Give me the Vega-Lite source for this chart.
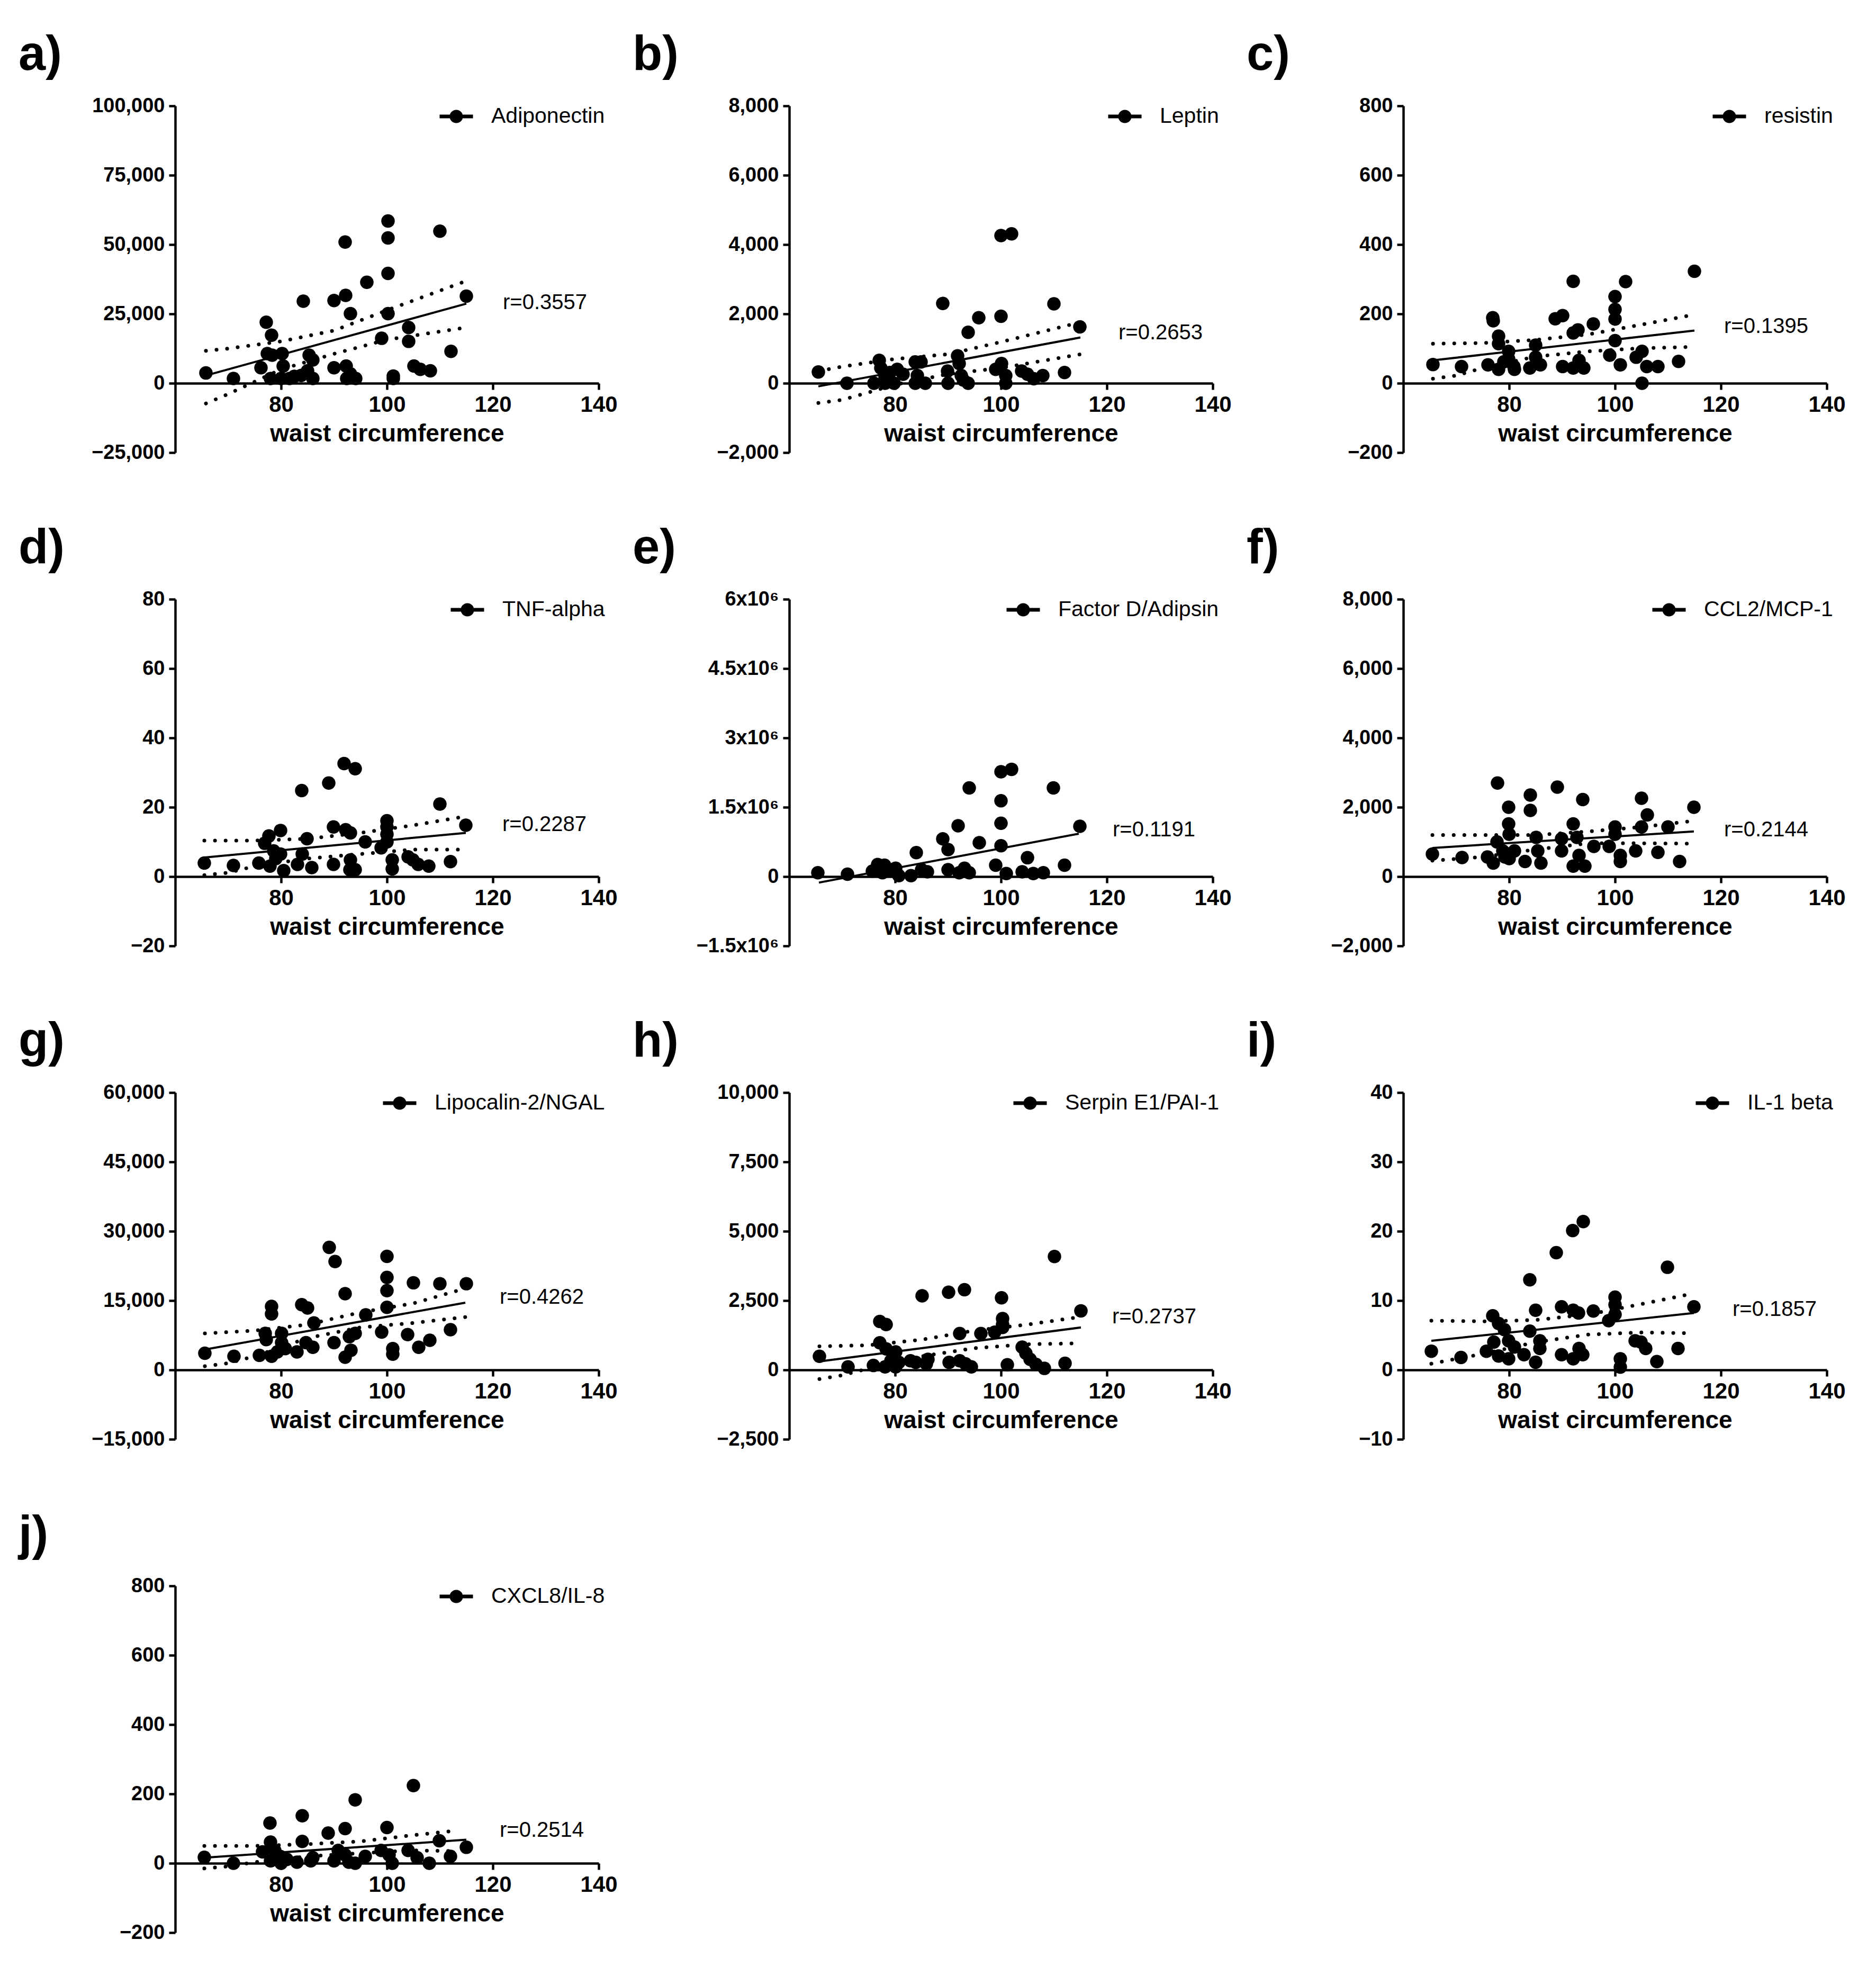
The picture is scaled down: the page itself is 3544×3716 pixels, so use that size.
{
  "$schema": "https://vega.github.io/schema/vega-lite/v6.json",
  "background": "white",
  "padding": {"left": 35, "top": 58, "right": 10, "bottom": 10},
  "config": {
    "font": "Liberation Sans",
    "view": {"stroke": null},
    "axis": {
      "grid": false,
      "domainColor": "black",
      "domainWidth": 4.5,
      "tickColor": "black",
      "tickWidth": 4.5,
      "tickSize": 12,
      "labelColor": "black",
      "labelFont": "Liberation Sans",
      "labelFontWeight": "bold",
      "labelFlush": false,
      "labelOverlap": false,
      "titleColor": "black",
      "titleFont": "Liberation Sans",
      "titleFontWeight": "bold"
    },
    "axisX": {"offset": -131, "labelFontSize": 42, "labelPadding": 8, "titleFontSize": 46, "titlePadding": 12},
    "axisY": {"labelFontSize": 38, "labelPadding": 8},
    "title": {
      "fontSize": 92,
      "fontWeight": "bold",
      "font": "Liberation Sans",
      "anchor": "start",
      "frame": "group",
      "dx": -296,
      "offset": 30,
      "color": "black"
    },
    "legend": {
      "orient": "top-right",
      "offset": -12,
      "padding": 0,
      "labelFont": "Liberation Sans",
      "labelFontSize": 41,
      "labelColor": "black",
      "labelLimit": 0,
      "labelOffset": 34,
      "symbolType": "M-1,-0.11H1V0.11H-1Z M0.4,0A0.4,0.4 0 1,1 -0.4,0A0.4,0.4 0 1,1 0.4,0Z",
      "symbolSize": 3970,
      "symbolStrokeWidth": 0
    },
    "text": {"font": "Liberation Sans", "fontSize": 40, "color": "black", "align": "left", "baseline": "middle"}
  },
  "resolve": {"scale": {"x": "independent", "y": "independent", "color": "independent"}},
  "columns": 3,
  "bounds": "flush",
  "spacing": {"row": 277, "column": 360},
  "datasets": {
    "a": [
      {"kind": "pt", "waist": 65.8, "value": 3700}, {"kind": "pt", "waist": 71, "value": 1700}, {"kind": "pt", "waist": 76.2, "value": 5600},
      {"kind": "pt", "waist": 77.2, "value": 22000}, {"kind": "pt", "waist": 78.2, "value": 17300}, {"kind": "pt", "waist": 77.4, "value": 10700},
      {"kind": "pt", "waist": 78.3, "value": 10100}, {"kind": "pt", "waist": 78, "value": 1700}, {"kind": "pt", "waist": 80.2, "value": 10700},
      {"kind": "pt", "waist": 80.4, "value": 6200}, {"kind": "pt", "waist": 80, "value": 1700}, {"kind": "pt", "waist": 81.6, "value": 1700},
      {"kind": "pt", "waist": 82.5, "value": 2500}, {"kind": "pt", "waist": 84.2, "value": 29600}, {"kind": "pt", "waist": 83.8, "value": 2800},
      {"kind": "pt", "waist": 85, "value": 4500}, {"kind": "pt", "waist": 85.3, "value": 10100}, {"kind": "pt", "waist": 86, "value": 8400},
      {"kind": "pt", "waist": 86, "value": 1700}, {"kind": "pt", "waist": 90, "value": 29800}, {"kind": "pt", "waist": 90, "value": 5600},
      {"kind": "pt", "waist": 92.1, "value": 50900}, {"kind": "pt", "waist": 92.2, "value": 31700}, {"kind": "pt", "waist": 92.3, "value": 6200},
      {"kind": "pt", "waist": 92.4, "value": 1700}, {"kind": "pt", "waist": 93.1, "value": 25100}, {"kind": "pt", "waist": 93.1, "value": 3400},
      {"kind": "pt", "waist": 94.1, "value": 1700}, {"kind": "pt", "waist": 96.2, "value": 36400}, {"kind": "pt", "waist": 99, "value": 16200},
      {"kind": "pt", "waist": 100.2, "value": 58500}, {"kind": "pt", "waist": 100.2, "value": 52400}, {"kind": "pt", "waist": 100.2, "value": 39600},
      {"kind": "pt", "waist": 100.2, "value": 25100}, {"kind": "pt", "waist": 101.2, "value": 2600}, {"kind": "pt", "waist": 101.2, "value": 1700},
      {"kind": "pt", "waist": 104.1, "value": 20100}, {"kind": "pt", "waist": 104.1, "value": 15100}, {"kind": "pt", "waist": 105.1, "value": 6200},
      {"kind": "pt", "waist": 106.3, "value": 5000}, {"kind": "pt", "waist": 108.2, "value": 4500}, {"kind": "pt", "waist": 110, "value": 54800},
      {"kind": "pt", "waist": 112.1, "value": 11500}, {"kind": "pt", "waist": 115, "value": 31400},
      {"kind": "fit", "waist": 65.8, "value": 2800}, {"kind": "fit", "waist": 115, "value": 28700},
      {"kind": "upper", "waist": 65.8, "value": 11700}, {"kind": "upper", "waist": 70, "value": 12500}, {"kind": "upper", "waist": 80, "value": 15100},
      {"kind": "upper", "waist": 90, "value": 19000}, {"kind": "upper", "waist": 100, "value": 26300}, {"kind": "upper", "waist": 115, "value": 36900},
      {"kind": "lower", "waist": 65.8, "value": -7300}, {"kind": "lower", "waist": 70, "value": -3900}, {"kind": "lower", "waist": 80, "value": 5000},
      {"kind": "lower", "waist": 90, "value": 10600}, {"kind": "lower", "waist": 100, "value": 15700}, {"kind": "lower", "waist": 115, "value": 20100},
      {"kind": "r", "waist": 121.9, "value": 29100, "label": "r=0.3557"}
    ],
    "b": [
      {"kind": "pt", "waist": 65.5, "value": 325}, {"kind": "pt", "waist": 70.9, "value": 0}, {"kind": "pt", "waist": 76, "value": 0},
      {"kind": "pt", "waist": 77, "value": 660}, {"kind": "pt", "waist": 77.3, "value": 440}, {"kind": "pt", "waist": 78.1, "value": 175},
      {"kind": "pt", "waist": 78.1, "value": 0}, {"kind": "pt", "waist": 79, "value": 310}, {"kind": "pt", "waist": 79.8, "value": 0},
      {"kind": "pt", "waist": 80.4, "value": 400}, {"kind": "pt", "waist": 81.5, "value": 260}, {"kind": "pt", "waist": 83.8, "value": 615},
      {"kind": "pt", "waist": 84.9, "value": 615}, {"kind": "pt", "waist": 83.8, "value": 0}, {"kind": "pt", "waist": 85.7, "value": 0},
      {"kind": "pt", "waist": 84.2, "value": 220}, {"kind": "pt", "waist": 89, "value": 2300}, {"kind": "pt", "waist": 89.9, "value": 350},
      {"kind": "pt", "waist": 90, "value": 0}, {"kind": "pt", "waist": 91.8, "value": 790}, {"kind": "pt", "waist": 92.1, "value": 570},
      {"kind": "pt", "waist": 92.5, "value": 220}, {"kind": "pt", "waist": 92.9, "value": 90}, {"kind": "pt", "waist": 93.8, "value": 0},
      {"kind": "pt", "waist": 93.8, "value": 1470}, {"kind": "pt", "waist": 95.8, "value": 1890}, {"kind": "pt", "waist": 99, "value": 400},
      {"kind": "pt", "waist": 100, "value": 4260}, {"kind": "pt", "waist": 100, "value": 1930}, {"kind": "pt", "waist": 100.1, "value": 570},
      {"kind": "pt", "waist": 100.9, "value": 220}, {"kind": "pt", "waist": 100.9, "value": 0}, {"kind": "pt", "waist": 102, "value": 4310},
      {"kind": "pt", "waist": 103.9, "value": 350}, {"kind": "pt", "waist": 105, "value": 260}, {"kind": "pt", "waist": 106.2, "value": 130},
      {"kind": "pt", "waist": 107.9, "value": 220}, {"kind": "pt", "waist": 110, "value": 2290}, {"kind": "pt", "waist": 112, "value": 310},
      {"kind": "pt", "waist": 114.9, "value": 1625},
      {"kind": "fit", "waist": 65.5, "value": -90}, {"kind": "fit", "waist": 115, "value": 1320},
      {"kind": "upper", "waist": 65.5, "value": 350}, {"kind": "upper", "waist": 70, "value": 480}, {"kind": "upper", "waist": 80, "value": 700},
      {"kind": "upper", "waist": 90, "value": 835}, {"kind": "upper", "waist": 100, "value": 1190}, {"kind": "upper", "waist": 115, "value": 1760},
      {"kind": "lower", "waist": 65.5, "value": -570}, {"kind": "lower", "waist": 70, "value": -480}, {"kind": "lower", "waist": 75, "value": -265},
      {"kind": "lower", "waist": 80, "value": -40}, {"kind": "lower", "waist": 90, "value": 265}, {"kind": "lower", "waist": 100, "value": 440},
      {"kind": "lower", "waist": 115, "value": 835},
      {"kind": "r", "waist": 122.2, "value": 1450, "label": "r=0.2653"}
    ],
    "c": [
      {"kind": "pt", "waist": 65.6, "value": 54}, {"kind": "pt", "waist": 71, "value": 48}, {"kind": "pt", "waist": 76, "value": 53},
      {"kind": "pt", "waist": 76.9, "value": 189}, {"kind": "pt", "waist": 77, "value": 180}, {"kind": "pt", "waist": 78, "value": 136},
      {"kind": "pt", "waist": 78, "value": 114}, {"kind": "pt", "waist": 78, "value": 40}, {"kind": "pt", "waist": 79, "value": 62},
      {"kind": "pt", "waist": 79.9, "value": 92}, {"kind": "pt", "waist": 79.9, "value": 70}, {"kind": "pt", "waist": 80.9, "value": 48},
      {"kind": "pt", "waist": 81, "value": 40}, {"kind": "pt", "waist": 83.9, "value": 44}, {"kind": "pt", "waist": 85, "value": 110},
      {"kind": "pt", "waist": 85, "value": 75}, {"kind": "pt", "waist": 85.9, "value": 53}, {"kind": "pt", "waist": 88.7, "value": 186},
      {"kind": "pt", "waist": 90.1, "value": 195}, {"kind": "pt", "waist": 90.1, "value": 48}, {"kind": "pt", "waist": 92.1, "value": 294},
      {"kind": "pt", "waist": 92.1, "value": 145}, {"kind": "pt", "waist": 93, "value": 154}, {"kind": "pt", "waist": 92.1, "value": 44},
      {"kind": "pt", "waist": 93.2, "value": 66}, {"kind": "pt", "waist": 94.1, "value": 44}, {"kind": "pt", "waist": 95.9, "value": 171},
      {"kind": "pt", "waist": 99, "value": 81}, {"kind": "pt", "waist": 100, "value": 250}, {"kind": "pt", "waist": 100, "value": 213},
      {"kind": "pt", "waist": 100, "value": 185}, {"kind": "pt", "waist": 100, "value": 123}, {"kind": "pt", "waist": 101, "value": 53},
      {"kind": "pt", "waist": 102, "value": 293}, {"kind": "pt", "waist": 104, "value": 75}, {"kind": "pt", "waist": 105.1, "value": 92},
      {"kind": "pt", "waist": 105.1, "value": 0}, {"kind": "pt", "waist": 106, "value": 48}, {"kind": "pt", "waist": 108.1, "value": 48},
      {"kind": "pt", "waist": 112, "value": 63}, {"kind": "pt", "waist": 115, "value": 323},
      {"kind": "fit", "waist": 65.6, "value": 66}, {"kind": "fit", "waist": 115, "value": 152},
      {"kind": "upper", "waist": 65.6, "value": 114}, {"kind": "upper", "waist": 75, "value": 116}, {"kind": "upper", "waist": 85, "value": 125},
      {"kind": "upper", "waist": 95, "value": 141}, {"kind": "upper", "waist": 105, "value": 169}, {"kind": "upper", "waist": 115, "value": 198},
      {"kind": "lower", "waist": 65.6, "value": 13}, {"kind": "lower", "waist": 70, "value": 22}, {"kind": "lower", "waist": 75, "value": 44},
      {"kind": "lower", "waist": 85, "value": 77}, {"kind": "lower", "waist": 95, "value": 92}, {"kind": "lower", "waist": 105, "value": 101},
      {"kind": "lower", "waist": 115, "value": 105},
      {"kind": "r", "waist": 120.6, "value": 163, "label": "r=0.1395"}
    ],
    "d": [
      {"kind": "pt", "waist": 65.5, "value": 3.9}, {"kind": "pt", "waist": 71, "value": 3.2}, {"kind": "pt", "waist": 75.8, "value": 3.9},
      {"kind": "pt", "waist": 76.9, "value": 9.6}, {"kind": "pt", "waist": 77.7, "value": 11.7}, {"kind": "pt", "waist": 77.9, "value": 3.0},
      {"kind": "pt", "waist": 78.6, "value": 7.4}, {"kind": "pt", "waist": 79, "value": 5.2}, {"kind": "pt", "waist": 79.9, "value": 13.3},
      {"kind": "pt", "waist": 79.9, "value": 6.5}, {"kind": "pt", "waist": 80.5, "value": 1.7}, {"kind": "pt", "waist": 83.9, "value": 24.8},
      {"kind": "pt", "waist": 84, "value": 6.5}, {"kind": "pt", "waist": 83.1, "value": 3.5}, {"kind": "pt", "waist": 84.9, "value": 10.9},
      {"kind": "pt", "waist": 85.8, "value": 2.6}, {"kind": "pt", "waist": 89, "value": 27}, {"kind": "pt", "waist": 89.9, "value": 14.3},
      {"kind": "pt", "waist": 89.9, "value": 3.5}, {"kind": "pt", "waist": 91.9, "value": 32.6}, {"kind": "pt", "waist": 92.2, "value": 13.5},
      {"kind": "pt", "waist": 93.1, "value": 12.6}, {"kind": "pt", "waist": 93.1, "value": 4.8}, {"kind": "pt", "waist": 93, "value": 2},
      {"kind": "pt", "waist": 94, "value": 31.1}, {"kind": "pt", "waist": 94, "value": 2}, {"kind": "pt", "waist": 95.9, "value": 10},
      {"kind": "pt", "waist": 98.9, "value": 8.3}, {"kind": "pt", "waist": 100, "value": 16.1}, {"kind": "pt", "waist": 100, "value": 14.3},
      {"kind": "pt", "waist": 100, "value": 12.2}, {"kind": "pt", "waist": 100, "value": 10}, {"kind": "pt", "waist": 101, "value": 4.8},
      {"kind": "pt", "waist": 101, "value": 2.2}, {"kind": "pt", "waist": 104, "value": 5.7}, {"kind": "pt", "waist": 104.9, "value": 4.8},
      {"kind": "pt", "waist": 105.9, "value": 3.5}, {"kind": "pt", "waist": 107.9, "value": 3}, {"kind": "pt", "waist": 110, "value": 20.9},
      {"kind": "pt", "waist": 112, "value": 4.3}, {"kind": "pt", "waist": 114.9, "value": 14.8},
      {"kind": "fit", "waist": 65.5, "value": 5.5}, {"kind": "fit", "waist": 114.9, "value": 12.6},
      {"kind": "upper", "waist": 65.5, "value": 10.4}, {"kind": "upper", "waist": 75, "value": 10.4}, {"kind": "upper", "waist": 85, "value": 10.9},
      {"kind": "upper", "waist": 95, "value": 12.6}, {"kind": "upper", "waist": 105, "value": 14.8}, {"kind": "upper", "waist": 115, "value": 17.4},
      {"kind": "lower", "waist": 65.5, "value": 0.4}, {"kind": "lower", "waist": 70, "value": 1.1}, {"kind": "lower", "waist": 75, "value": 3.0},
      {"kind": "lower", "waist": 85, "value": 5.2}, {"kind": "lower", "waist": 95, "value": 6.5}, {"kind": "lower", "waist": 105, "value": 7.8},
      {"kind": "lower", "waist": 115, "value": 7.8},
      {"kind": "r", "waist": 121.8, "value": 15.0, "label": "r=0.2287"}
    ],
    "e": [
      {"kind": "pt", "waist": 65.4, "value": 84000}, {"kind": "pt", "waist": 71, "value": 52000}, {"kind": "pt", "waist": 75.7, "value": 117000},
      {"kind": "pt", "waist": 76.7, "value": 260000}, {"kind": "pt", "waist": 78, "value": 246000}, {"kind": "pt", "waist": 77.6, "value": 84000},
      {"kind": "pt", "waist": 79.2, "value": 149000}, {"kind": "pt", "waist": 80.1, "value": 181000}, {"kind": "pt", "waist": 80.7, "value": 19000},
      {"kind": "pt", "waist": 83, "value": 19000}, {"kind": "pt", "waist": 84, "value": 518000}, {"kind": "pt", "waist": 85, "value": 149000},
      {"kind": "pt", "waist": 86.1, "value": 104000}, {"kind": "pt", "waist": 89, "value": 816000}, {"kind": "pt", "waist": 90, "value": 583000},
      {"kind": "pt", "waist": 90, "value": 149000}, {"kind": "pt", "waist": 91.9, "value": 1100000}, {"kind": "pt", "waist": 92.1, "value": 84000},
      {"kind": "pt", "waist": 93.1, "value": 181000}, {"kind": "pt", "waist": 94, "value": 1918000}, {"kind": "pt", "waist": 94, "value": 84000},
      {"kind": "pt", "waist": 95.9, "value": 732000}, {"kind": "pt", "waist": 99, "value": 246000}, {"kind": "pt", "waist": 100, "value": 2268000},
      {"kind": "pt", "waist": 100, "value": 1640000}, {"kind": "pt", "waist": 100, "value": 1153000}, {"kind": "pt", "waist": 100, "value": 667000},
      {"kind": "pt", "waist": 101, "value": 65000}, {"kind": "pt", "waist": 102, "value": 2320000}, {"kind": "pt", "waist": 104, "value": 104000},
      {"kind": "pt", "waist": 105, "value": 408000}, {"kind": "pt", "waist": 106.1, "value": 65000}, {"kind": "pt", "waist": 108, "value": 84000},
      {"kind": "pt", "waist": 109.9, "value": 1918000}, {"kind": "pt", "waist": 112, "value": 246000}, {"kind": "pt", "waist": 114.9, "value": 1089000},
      {"kind": "fit", "waist": 65.6, "value": -130000}, {"kind": "fit", "waist": 114.7, "value": 927000},
      {"kind": "r", "waist": 121.1, "value": 1011000, "label": "r=0.1191"}
    ],
    "f": [
      {"kind": "pt", "waist": 65.5, "value": 650}, {"kind": "pt", "waist": 71.1, "value": 550}, {"kind": "pt", "waist": 75.9, "value": 565},
      {"kind": "pt", "waist": 77, "value": 390}, {"kind": "pt", "waist": 77.7, "value": 1000}, {"kind": "pt", "waist": 77.8, "value": 2700},
      {"kind": "pt", "waist": 78.8, "value": 740}, {"kind": "pt", "waist": 79.2, "value": 565}, {"kind": "pt", "waist": 79.9, "value": 1520},
      {"kind": "pt", "waist": 79.9, "value": 2000}, {"kind": "pt", "waist": 80, "value": 1220}, {"kind": "pt", "waist": 80, "value": 520},
      {"kind": "pt", "waist": 81, "value": 740}, {"kind": "pt", "waist": 83, "value": 435}, {"kind": "pt", "waist": 84, "value": 2350},
      {"kind": "pt", "waist": 84, "value": 1910}, {"kind": "pt", "waist": 85.1, "value": 1130}, {"kind": "pt", "waist": 85.4, "value": 740},
      {"kind": "pt", "waist": 86, "value": 390}, {"kind": "pt", "waist": 89.1, "value": 2580}, {"kind": "pt", "waist": 89.9, "value": 1090},
      {"kind": "pt", "waist": 89.9, "value": 740}, {"kind": "pt", "waist": 92.1, "value": 1520}, {"kind": "pt", "waist": 92.1, "value": 300},
      {"kind": "pt", "waist": 92.8, "value": 1130}, {"kind": "pt", "waist": 93.2, "value": 610}, {"kind": "pt", "waist": 93.9, "value": 2220},
      {"kind": "pt", "waist": 94.3, "value": 300}, {"kind": "pt", "waist": 96, "value": 870}, {"kind": "pt", "waist": 98.9, "value": 870},
      {"kind": "pt", "waist": 100, "value": 1430}, {"kind": "pt", "waist": 100, "value": 1220}, {"kind": "pt", "waist": 101, "value": 610},
      {"kind": "pt", "waist": 101, "value": 435}, {"kind": "pt", "waist": 103.9, "value": 740}, {"kind": "pt", "waist": 105, "value": 1430},
      {"kind": "pt", "waist": 105, "value": 2260}, {"kind": "pt", "waist": 106.1, "value": 1780}, {"kind": "pt", "waist": 108.1, "value": 700},
      {"kind": "pt", "waist": 110, "value": 1430}, {"kind": "pt", "waist": 112.2, "value": 435}, {"kind": "pt", "waist": 114.9, "value": 2000},
      {"kind": "fit", "waist": 65.5, "value": 826}, {"kind": "fit", "waist": 114.9, "value": 1300},
      {"kind": "upper", "waist": 65.5, "value": 1200}, {"kind": "upper", "waist": 75, "value": 1200}, {"kind": "upper", "waist": 85, "value": 1200},
      {"kind": "upper", "waist": 95, "value": 1300}, {"kind": "upper", "waist": 105, "value": 1430}, {"kind": "upper", "waist": 115, "value": 1610},
      {"kind": "lower", "waist": 65.5, "value": 460}, {"kind": "lower", "waist": 75, "value": 565}, {"kind": "lower", "waist": 85, "value": 780},
      {"kind": "lower", "waist": 95, "value": 960}, {"kind": "lower", "waist": 105, "value": 960}, {"kind": "lower", "waist": 115, "value": 950},
      {"kind": "r", "waist": 120.6, "value": 1348, "label": "r=0.2144"}
    ],
    "g": [
      {"kind": "pt", "waist": 65.6, "value": 3600}, {"kind": "pt", "waist": 71.1, "value": 2950}, {"kind": "pt", "waist": 75.9, "value": 3150},
      {"kind": "pt", "waist": 77, "value": 7900}, {"kind": "pt", "waist": 77.2, "value": 6550}, {"kind": "pt", "waist": 78.2, "value": 13750},
      {"kind": "pt", "waist": 78.2, "value": 12100}, {"kind": "pt", "waist": 78.2, "value": 2950}, {"kind": "pt", "waist": 79.3, "value": 3900},
      {"kind": "pt", "waist": 80.1, "value": 7900}, {"kind": "pt", "waist": 80.1, "value": 5900}, {"kind": "pt", "waist": 80.8, "value": 4600},
      {"kind": "pt", "waist": 83, "value": 3900}, {"kind": "pt", "waist": 83.9, "value": 14100}, {"kind": "pt", "waist": 85, "value": 13400},
      {"kind": "pt", "waist": 84.7, "value": 5900}, {"kind": "pt", "waist": 86.2, "value": 10150}, {"kind": "pt", "waist": 86, "value": 4900},
      {"kind": "pt", "waist": 89.1, "value": 26500}, {"kind": "pt", "waist": 90.2, "value": 23450}, {"kind": "pt", "waist": 90, "value": 5900},
      {"kind": "pt", "waist": 92.1, "value": 16500}, {"kind": "pt", "waist": 92.1, "value": 2750}, {"kind": "pt", "waist": 92.9, "value": 7200},
      {"kind": "pt", "waist": 93.2, "value": 4250}, {"kind": "pt", "waist": 94, "value": 7900}, {"kind": "pt", "waist": 96, "value": 11900},
      {"kind": "pt", "waist": 99, "value": 8200}, {"kind": "pt", "waist": 100, "value": 24550}, {"kind": "pt", "waist": 100, "value": 20000},
      {"kind": "pt", "waist": 100, "value": 17150}, {"kind": "pt", "waist": 100, "value": 13550}, {"kind": "pt", "waist": 101.1, "value": 4600},
      {"kind": "pt", "waist": 101.1, "value": 3400}, {"kind": "pt", "waist": 103.9, "value": 7650}, {"kind": "pt", "waist": 105, "value": 18850},
      {"kind": "pt", "waist": 106, "value": 4900}, {"kind": "pt", "waist": 108.1, "value": 6400}, {"kind": "pt", "waist": 110, "value": 18650},
      {"kind": "pt", "waist": 112, "value": 8700}, {"kind": "pt", "waist": 115, "value": 18650},
      {"kind": "fit", "waist": 65.6, "value": 4400}, {"kind": "fit", "waist": 114.8, "value": 14550},
      {"kind": "upper", "waist": 65.6, "value": 7900}, {"kind": "upper", "waist": 75, "value": 8500}, {"kind": "upper", "waist": 85, "value": 9800},
      {"kind": "upper", "waist": 95, "value": 12450}, {"kind": "upper", "waist": 105, "value": 14400}, {"kind": "upper", "waist": 115, "value": 17700},
      {"kind": "lower", "waist": 65.6, "value": 800}, {"kind": "lower", "waist": 70, "value": 1450}, {"kind": "lower", "waist": 75, "value": 2950},
      {"kind": "lower", "waist": 85, "value": 6900}, {"kind": "lower", "waist": 95, "value": 9200}, {"kind": "lower", "waist": 105, "value": 10150},
      {"kind": "lower", "waist": 115, "value": 11450},
      {"kind": "r", "waist": 121.3, "value": 15720, "label": "r=0.4262"}
    ],
    "h": [
      {"kind": "pt", "waist": 65.7, "value": 490}, {"kind": "pt", "waist": 71.1, "value": 110}, {"kind": "pt", "waist": 75.9, "value": 160},
      {"kind": "pt", "waist": 77.1, "value": 1745}, {"kind": "pt", "waist": 78.3, "value": 1635}, {"kind": "pt", "waist": 77.1, "value": 980},
      {"kind": "pt", "waist": 78.3, "value": 760}, {"kind": "pt", "waist": 78.1, "value": 110}, {"kind": "pt", "waist": 79.2, "value": 330},
      {"kind": "pt", "waist": 80.1, "value": 650}, {"kind": "pt", "waist": 80.1, "value": 110}, {"kind": "pt", "waist": 80.7, "value": 270},
      {"kind": "pt", "waist": 82.9, "value": 330}, {"kind": "pt", "waist": 83.9, "value": 270}, {"kind": "pt", "waist": 85.1, "value": 2670},
      {"kind": "pt", "waist": 85.9, "value": 220}, {"kind": "pt", "waist": 86.2, "value": 380}, {"kind": "pt", "waist": 90.1, "value": 2800},
      {"kind": "pt", "waist": 90.2, "value": 270}, {"kind": "pt", "waist": 92.2, "value": 1310}, {"kind": "pt", "waist": 92.2, "value": 330},
      {"kind": "pt", "waist": 93.1, "value": 2890}, {"kind": "pt", "waist": 93.3, "value": 220}, {"kind": "pt", "waist": 94.4, "value": 110},
      {"kind": "pt", "waist": 96.2, "value": 1310}, {"kind": "pt", "waist": 98.8, "value": 1360}, {"kind": "pt", "waist": 100.1, "value": 2600},
      {"kind": "pt", "waist": 100.3, "value": 1850}, {"kind": "pt", "waist": 100.3, "value": 1635}, {"kind": "pt", "waist": 100.3, "value": 1530},
      {"kind": "pt", "waist": 101.2, "value": 185}, {"kind": "pt", "waist": 104, "value": 820}, {"kind": "pt", "waist": 104.7, "value": 600},
      {"kind": "pt", "waist": 105.5, "value": 380}, {"kind": "pt", "waist": 106.6, "value": 200}, {"kind": "pt", "waist": 108.2, "value": 55},
      {"kind": "pt", "waist": 110.1, "value": 4090}, {"kind": "pt", "waist": 112.1, "value": 240}, {"kind": "pt", "waist": 115.1, "value": 2130},
      {"kind": "fit", "waist": 65.7, "value": 305}, {"kind": "fit", "waist": 115.1, "value": 1530},
      {"kind": "upper", "waist": 65.7, "value": 850}, {"kind": "upper", "waist": 75, "value": 890}, {"kind": "upper", "waist": 85, "value": 1090},
      {"kind": "upper", "waist": 95, "value": 1420}, {"kind": "upper", "waist": 105, "value": 1635}, {"kind": "upper", "waist": 115, "value": 1910},
      {"kind": "lower", "waist": 65.7, "value": -330}, {"kind": "lower", "waist": 70, "value": -195}, {"kind": "lower", "waist": 75, "value": 55},
      {"kind": "lower", "waist": 85, "value": 490}, {"kind": "lower", "waist": 95, "value": 785}, {"kind": "lower", "waist": 105, "value": 925},
      {"kind": "lower", "waist": 115, "value": 960},
      {"kind": "r", "waist": 121, "value": 1908, "label": "r=0.2737"}
    ],
    "i": [
      {"kind": "pt", "waist": 65.3, "value": 2.7}, {"kind": "pt", "waist": 70.9, "value": 1.8}, {"kind": "pt", "waist": 75.7, "value": 2.7},
      {"kind": "pt", "waist": 76.9, "value": 7.8}, {"kind": "pt", "waist": 77.1, "value": 4.0}, {"kind": "pt", "waist": 78, "value": 6.7},
      {"kind": "pt", "waist": 78, "value": 2.0}, {"kind": "pt", "waist": 79.1, "value": 5.8}, {"kind": "pt", "waist": 79.9, "value": 4.2},
      {"kind": "pt", "waist": 79.9, "value": 1.6}, {"kind": "pt", "waist": 81, "value": 3.3}, {"kind": "pt", "waist": 82.8, "value": 2.2},
      {"kind": "pt", "waist": 83.9, "value": 13}, {"kind": "pt", "waist": 83.9, "value": 5.6}, {"kind": "pt", "waist": 85, "value": 8.6},
      {"kind": "pt", "waist": 85, "value": 1.1}, {"kind": "pt", "waist": 85.8, "value": 4.2}, {"kind": "pt", "waist": 85.8, "value": 3.1},
      {"kind": "pt", "waist": 88.9, "value": 16.9}, {"kind": "pt", "waist": 89.9, "value": 9.1}, {"kind": "pt", "waist": 89.9, "value": 2.2},
      {"kind": "pt", "waist": 92, "value": 20.1}, {"kind": "pt", "waist": 92.1, "value": 8.6}, {"kind": "pt", "waist": 93.1, "value": 8.2},
      {"kind": "pt", "waist": 92.1, "value": 1.6}, {"kind": "pt", "waist": 93.2, "value": 3.1}, {"kind": "pt", "waist": 93.9, "value": 2.2},
      {"kind": "pt", "waist": 94, "value": 21.4}, {"kind": "pt", "waist": 95.9, "value": 8.5}, {"kind": "pt", "waist": 98.8, "value": 7.1},
      {"kind": "pt", "waist": 100, "value": 10.5}, {"kind": "pt", "waist": 100, "value": 9.4}, {"kind": "pt", "waist": 100, "value": 8.0},
      {"kind": "pt", "waist": 101, "value": 1.6}, {"kind": "pt", "waist": 101, "value": 0.4}, {"kind": "pt", "waist": 103.8, "value": 4.2},
      {"kind": "pt", "waist": 104.9, "value": 4.0}, {"kind": "pt", "waist": 105.8, "value": 3.1}, {"kind": "pt", "waist": 107.9, "value": 1.2},
      {"kind": "pt", "waist": 109.9, "value": 14.8}, {"kind": "pt", "waist": 111.9, "value": 3.1}, {"kind": "pt", "waist": 114.9, "value": 9.1},
      {"kind": "fit", "waist": 65.3, "value": 4.2}, {"kind": "fit", "waist": 114.9, "value": 8.2},
      {"kind": "upper", "waist": 65.3, "value": 7.1}, {"kind": "upper", "waist": 75, "value": 7.0}, {"kind": "upper", "waist": 85, "value": 7.2},
      {"kind": "upper", "waist": 95, "value": 8.0}, {"kind": "upper", "waist": 105, "value": 9.5}, {"kind": "upper", "waist": 114, "value": 10.9},
      {"kind": "lower", "waist": 65.3, "value": 0.9}, {"kind": "lower", "waist": 70, "value": 1.6}, {"kind": "lower", "waist": 75, "value": 2.3},
      {"kind": "lower", "waist": 85, "value": 4.0}, {"kind": "lower", "waist": 95, "value": 5.1}, {"kind": "lower", "waist": 105, "value": 5.4},
      {"kind": "lower", "waist": 114, "value": 5.3},
      {"kind": "r", "waist": 122.2, "value": 8.7, "label": "r=0.1857"}
    ],
    "j": [
      {"kind": "pt", "waist": 65.5, "value": 17}, {"kind": "pt", "waist": 71, "value": 0}, {"kind": "pt", "waist": 76.5, "value": 33},
      {"kind": "pt", "waist": 77.9, "value": 116}, {"kind": "pt", "waist": 78, "value": 61}, {"kind": "pt", "waist": 78, "value": 7},
      {"kind": "pt", "waist": 78.8, "value": 37}, {"kind": "pt", "waist": 79.8, "value": 20}, {"kind": "pt", "waist": 80, "value": 0},
      {"kind": "pt", "waist": 81.1, "value": 11}, {"kind": "pt", "waist": 83, "value": 3}, {"kind": "pt", "waist": 84, "value": 137},
      {"kind": "pt", "waist": 84, "value": 63}, {"kind": "pt", "waist": 85.6, "value": 7}, {"kind": "pt", "waist": 86, "value": 16},
      {"kind": "pt", "waist": 88.9, "value": 87}, {"kind": "pt", "waist": 90, "value": 7}, {"kind": "pt", "waist": 90.8, "value": 37},
      {"kind": "pt", "waist": 92.1, "value": 100}, {"kind": "pt", "waist": 92.1, "value": 24}, {"kind": "pt", "waist": 92.8, "value": 3},
      {"kind": "pt", "waist": 94, "value": 0}, {"kind": "pt", "waist": 94, "value": 183}, {"kind": "pt", "waist": 95.9, "value": 20},
      {"kind": "pt", "waist": 98.9, "value": 37}, {"kind": "pt", "waist": 100, "value": 103}, {"kind": "pt", "waist": 100.4, "value": 24},
      {"kind": "pt", "waist": 101, "value": 0}, {"kind": "pt", "waist": 104, "value": 37}, {"kind": "pt", "waist": 105, "value": 224},
      {"kind": "pt", "waist": 105.7, "value": 16}, {"kind": "pt", "waist": 108, "value": 0}, {"kind": "pt", "waist": 109.9, "value": 65},
      {"kind": "pt", "waist": 112, "value": 20}, {"kind": "pt", "waist": 115, "value": 46},
      {"kind": "fit", "waist": 65.5, "value": 16}, {"kind": "fit", "waist": 115, "value": 68},
      {"kind": "upper", "waist": 65.5, "value": 50}, {"kind": "upper", "waist": 75, "value": 50}, {"kind": "upper", "waist": 85, "value": 55},
      {"kind": "upper", "waist": 95, "value": 63}, {"kind": "upper", "waist": 105, "value": 81}, {"kind": "upper", "waist": 113, "value": 94},
      {"kind": "lower", "waist": 65.5, "value": -15}, {"kind": "lower", "waist": 70, "value": -9}, {"kind": "lower", "waist": 75, "value": 3},
      {"kind": "lower", "waist": 85, "value": 20}, {"kind": "lower", "waist": 95, "value": 29}, {"kind": "lower", "waist": 105, "value": 37},
      {"kind": "lower", "waist": 113, "value": 35},
      {"kind": "r", "waist": 121.3, "value": 94, "label": "r=0.2514"}
    ]
  },
  "concat": [
    {
      "title": "a)", "width": 800, "height": 655, "data": {"name": "a"},
      "encoding": {
        "x": {"field": "waist", "type": "quantitative", "scale": {"domain": [60, 140]}, "axis": {"values": [80, 100, 120, 140], "title": "waist circumference"}},
        "y": {"field": "value", "type": "quantitative", "scale": {"domain": [-25000, 100000]}, "axis": {"values": [-25000, 0, 25000, 50000, 75000, 100000], "format": ",.0f", "title": null}}
      },
      "layer": [
        {"transform": [{"filter": "datum.kind == 'upper' || datum.kind == 'lower'"}], "mark": {"type": "line", "color": "black", "strokeWidth": 7, "strokeCap": "round", "strokeDash": [0.1, 20]}, "encoding": {"detail": {"field": "kind"}}},
        {"transform": [{"filter": "datum.kind == 'fit'"}], "mark": {"type": "line", "color": "black", "strokeWidth": 4}, "encoding": {}},
        {"transform": [{"filter": "datum.kind == 'pt'"}], "mark": {"type": "point", "shape": "circle", "filled": true, "size": 650, "opacity": 1, "strokeWidth": 0}, "encoding": {"color": {"datum": "Adiponectin", "type": "nominal", "scale": {"range": ["black"]}, "legend": {"title": null}}}},
        {"transform": [{"filter": "datum.kind == 'r'"}], "mark": {"type": "text"}, "encoding": {"text": {"field": "label"}}}
      ]
    },
    {
      "title": "b)", "width": 800, "height": 655, "data": {"name": "b"},
      "encoding": {
        "x": {"field": "waist", "type": "quantitative", "scale": {"domain": [60, 140]}, "axis": {"values": [80, 100, 120, 140], "title": "waist circumference"}},
        "y": {"field": "value", "type": "quantitative", "scale": {"domain": [-2000, 8000]}, "axis": {"values": [-2000, 0, 2000, 4000, 6000, 8000], "format": ",.0f", "title": null}}
      },
      "layer": [
        {"transform": [{"filter": "datum.kind == 'upper' || datum.kind == 'lower'"}], "mark": {"type": "line", "color": "black", "strokeWidth": 7, "strokeCap": "round", "strokeDash": [0.1, 20]}, "encoding": {"detail": {"field": "kind"}}},
        {"transform": [{"filter": "datum.kind == 'fit'"}], "mark": {"type": "line", "color": "black", "strokeWidth": 4}, "encoding": {}},
        {"transform": [{"filter": "datum.kind == 'pt'"}], "mark": {"type": "point", "shape": "circle", "filled": true, "size": 650, "opacity": 1, "strokeWidth": 0}, "encoding": {"color": {"datum": "Leptin", "type": "nominal", "scale": {"range": ["black"]}, "legend": {"title": null}}}},
        {"transform": [{"filter": "datum.kind == 'r'"}], "mark": {"type": "text"}, "encoding": {"text": {"field": "label"}}}
      ]
    },
    {
      "title": "c)", "width": 800, "height": 655, "data": {"name": "c"},
      "encoding": {
        "x": {"field": "waist", "type": "quantitative", "scale": {"domain": [60, 140]}, "axis": {"values": [80, 100, 120, 140], "title": "waist circumference"}},
        "y": {"field": "value", "type": "quantitative", "scale": {"domain": [-200, 800]}, "axis": {"values": [-200, 0, 200, 400, 600, 800], "format": ",.0f", "title": null}}
      },
      "layer": [
        {"transform": [{"filter": "datum.kind == 'upper' || datum.kind == 'lower'"}], "mark": {"type": "line", "color": "black", "strokeWidth": 7, "strokeCap": "round", "strokeDash": [0.1, 20]}, "encoding": {"detail": {"field": "kind"}}},
        {"transform": [{"filter": "datum.kind == 'fit'"}], "mark": {"type": "line", "color": "black", "strokeWidth": 4}, "encoding": {}},
        {"transform": [{"filter": "datum.kind == 'pt'"}], "mark": {"type": "point", "shape": "circle", "filled": true, "size": 650, "opacity": 1, "strokeWidth": 0}, "encoding": {"color": {"datum": "resistin", "type": "nominal", "scale": {"range": ["black"]}, "legend": {"title": null}}}},
        {"transform": [{"filter": "datum.kind == 'r'"}], "mark": {"type": "text"}, "encoding": {"text": {"field": "label"}}}
      ]
    },
    {
      "title": "d)", "width": 800, "height": 655, "data": {"name": "d"},
      "encoding": {
        "x": {"field": "waist", "type": "quantitative", "scale": {"domain": [60, 140]}, "axis": {"values": [80, 100, 120, 140], "title": "waist circumference"}},
        "y": {"field": "value", "type": "quantitative", "scale": {"domain": [-20, 80]}, "axis": {"values": [-20, 0, 20, 40, 60, 80], "format": ",.0f", "title": null}}
      },
      "layer": [
        {"transform": [{"filter": "datum.kind == 'upper' || datum.kind == 'lower'"}], "mark": {"type": "line", "color": "black", "strokeWidth": 7, "strokeCap": "round", "strokeDash": [0.1, 20]}, "encoding": {"detail": {"field": "kind"}}},
        {"transform": [{"filter": "datum.kind == 'fit'"}], "mark": {"type": "line", "color": "black", "strokeWidth": 4}, "encoding": {}},
        {"transform": [{"filter": "datum.kind == 'pt'"}], "mark": {"type": "point", "shape": "circle", "filled": true, "size": 650, "opacity": 1, "strokeWidth": 0}, "encoding": {"color": {"datum": "TNF-alpha", "type": "nominal", "scale": {"range": ["black"]}, "legend": {"title": null}}}},
        {"transform": [{"filter": "datum.kind == 'r'"}], "mark": {"type": "text"}, "encoding": {"text": {"field": "label"}}}
      ]
    },
    {
      "title": "e)", "width": 800, "height": 655, "data": {"name": "e"},
      "encoding": {
        "x": {"field": "waist", "type": "quantitative", "scale": {"domain": [60, 140]}, "axis": {"values": [80, 100, 120, 140], "title": "waist circumference"}},
        "y": {"field": "value", "type": "quantitative", "scale": {"domain": [-1500000, 6000000]}, "axis": {"values": [-1500000, 0, 1500000, 3000000, 4500000, 6000000], "labelExpr": "datum.value === 0 ? '0' : format(datum.value / 1000000, '') + 'x10⁶'", "title": null}}
      },
      "layer": [
        {"transform": [{"filter": "datum.kind == 'fit'"}], "mark": {"type": "line", "color": "black", "strokeWidth": 4}, "encoding": {}},
        {"transform": [{"filter": "datum.kind == 'pt'"}], "mark": {"type": "point", "shape": "circle", "filled": true, "size": 650, "opacity": 1, "strokeWidth": 0}, "encoding": {"color": {"datum": "Factor D/Adipsin", "type": "nominal", "scale": {"range": ["black"]}, "legend": {"title": null}}}},
        {"transform": [{"filter": "datum.kind == 'r'"}], "mark": {"type": "text"}, "encoding": {"text": {"field": "label"}}}
      ]
    },
    {
      "title": "f)", "width": 800, "height": 655, "data": {"name": "f"},
      "encoding": {
        "x": {"field": "waist", "type": "quantitative", "scale": {"domain": [60, 140]}, "axis": {"values": [80, 100, 120, 140], "title": "waist circumference"}},
        "y": {"field": "value", "type": "quantitative", "scale": {"domain": [-2000, 8000]}, "axis": {"values": [-2000, 0, 2000, 4000, 6000, 8000], "format": ",.0f", "title": null}}
      },
      "layer": [
        {"transform": [{"filter": "datum.kind == 'upper' || datum.kind == 'lower'"}], "mark": {"type": "line", "color": "black", "strokeWidth": 7, "strokeCap": "round", "strokeDash": [0.1, 20]}, "encoding": {"detail": {"field": "kind"}}},
        {"transform": [{"filter": "datum.kind == 'fit'"}], "mark": {"type": "line", "color": "black", "strokeWidth": 4}, "encoding": {}},
        {"transform": [{"filter": "datum.kind == 'pt'"}], "mark": {"type": "point", "shape": "circle", "filled": true, "size": 650, "opacity": 1, "strokeWidth": 0}, "encoding": {"color": {"datum": "CCL2/MCP-1", "type": "nominal", "scale": {"range": ["black"]}, "legend": {"title": null}}}},
        {"transform": [{"filter": "datum.kind == 'r'"}], "mark": {"type": "text"}, "encoding": {"text": {"field": "label"}}}
      ]
    },
    {
      "title": "g)", "width": 800, "height": 655, "data": {"name": "g"},
      "encoding": {
        "x": {"field": "waist", "type": "quantitative", "scale": {"domain": [60, 140]}, "axis": {"values": [80, 100, 120, 140], "title": "waist circumference"}},
        "y": {"field": "value", "type": "quantitative", "scale": {"domain": [-15000, 60000]}, "axis": {"values": [-15000, 0, 15000, 30000, 45000, 60000], "format": ",.0f", "title": null}}
      },
      "layer": [
        {"transform": [{"filter": "datum.kind == 'upper' || datum.kind == 'lower'"}], "mark": {"type": "line", "color": "black", "strokeWidth": 7, "strokeCap": "round", "strokeDash": [0.1, 20]}, "encoding": {"detail": {"field": "kind"}}},
        {"transform": [{"filter": "datum.kind == 'fit'"}], "mark": {"type": "line", "color": "black", "strokeWidth": 4}, "encoding": {}},
        {"transform": [{"filter": "datum.kind == 'pt'"}], "mark": {"type": "point", "shape": "circle", "filled": true, "size": 650, "opacity": 1, "strokeWidth": 0}, "encoding": {"color": {"datum": "Lipocalin-2/NGAL", "type": "nominal", "scale": {"range": ["black"]}, "legend": {"title": null}}}},
        {"transform": [{"filter": "datum.kind == 'r'"}], "mark": {"type": "text"}, "encoding": {"text": {"field": "label"}}}
      ]
    },
    {
      "title": "h)", "width": 800, "height": 655, "data": {"name": "h"},
      "encoding": {
        "x": {"field": "waist", "type": "quantitative", "scale": {"domain": [60, 140]}, "axis": {"values": [80, 100, 120, 140], "title": "waist circumference"}},
        "y": {"field": "value", "type": "quantitative", "scale": {"domain": [-2500, 10000]}, "axis": {"values": [-2500, 0, 2500, 5000, 7500, 10000], "format": ",.0f", "title": null}}
      },
      "layer": [
        {"transform": [{"filter": "datum.kind == 'upper' || datum.kind == 'lower'"}], "mark": {"type": "line", "color": "black", "strokeWidth": 7, "strokeCap": "round", "strokeDash": [0.1, 20]}, "encoding": {"detail": {"field": "kind"}}},
        {"transform": [{"filter": "datum.kind == 'fit'"}], "mark": {"type": "line", "color": "black", "strokeWidth": 4}, "encoding": {}},
        {"transform": [{"filter": "datum.kind == 'pt'"}], "mark": {"type": "point", "shape": "circle", "filled": true, "size": 650, "opacity": 1, "strokeWidth": 0}, "encoding": {"color": {"datum": "Serpin E1/PAI-1", "type": "nominal", "scale": {"range": ["black"]}, "legend": {"title": null}}}},
        {"transform": [{"filter": "datum.kind == 'r'"}], "mark": {"type": "text"}, "encoding": {"text": {"field": "label"}}}
      ]
    },
    {
      "title": "i)", "width": 800, "height": 655, "data": {"name": "i"},
      "encoding": {
        "x": {"field": "waist", "type": "quantitative", "scale": {"domain": [60, 140]}, "axis": {"values": [80, 100, 120, 140], "title": "waist circumference"}},
        "y": {"field": "value", "type": "quantitative", "scale": {"domain": [-10, 40]}, "axis": {"values": [-10, 0, 10, 20, 30, 40], "format": ",.0f", "title": null}}
      },
      "layer": [
        {"transform": [{"filter": "datum.kind == 'upper' || datum.kind == 'lower'"}], "mark": {"type": "line", "color": "black", "strokeWidth": 7, "strokeCap": "round", "strokeDash": [0.1, 20]}, "encoding": {"detail": {"field": "kind"}}},
        {"transform": [{"filter": "datum.kind == 'fit'"}], "mark": {"type": "line", "color": "black", "strokeWidth": 4}, "encoding": {}},
        {"transform": [{"filter": "datum.kind == 'pt'"}], "mark": {"type": "point", "shape": "circle", "filled": true, "size": 650, "opacity": 1, "strokeWidth": 0}, "encoding": {"color": {"datum": "IL-1 beta", "type": "nominal", "scale": {"range": ["black"]}, "legend": {"title": null}}}},
        {"transform": [{"filter": "datum.kind == 'r'"}], "mark": {"type": "text"}, "encoding": {"text": {"field": "label"}}}
      ]
    },
    {
      "title": "j)", "width": 800, "height": 655, "data": {"name": "j"},
      "encoding": {
        "x": {"field": "waist", "type": "quantitative", "scale": {"domain": [60, 140]}, "axis": {"values": [80, 100, 120, 140], "title": "waist circumference"}},
        "y": {"field": "value", "type": "quantitative", "scale": {"domain": [-200, 800]}, "axis": {"values": [-200, 0, 200, 400, 600, 800], "format": ",.0f", "title": null}}
      },
      "layer": [
        {"transform": [{"filter": "datum.kind == 'upper' || datum.kind == 'lower'"}], "mark": {"type": "line", "color": "black", "strokeWidth": 7, "strokeCap": "round", "strokeDash": [0.1, 20]}, "encoding": {"detail": {"field": "kind"}}},
        {"transform": [{"filter": "datum.kind == 'fit'"}], "mark": {"type": "line", "color": "black", "strokeWidth": 4}, "encoding": {}},
        {"transform": [{"filter": "datum.kind == 'pt'"}], "mark": {"type": "point", "shape": "circle", "filled": true, "size": 650, "opacity": 1, "strokeWidth": 0}, "encoding": {"color": {"datum": "CXCL8/IL-8", "type": "nominal", "scale": {"range": ["black"]}, "legend": {"title": null}}}},
        {"transform": [{"filter": "datum.kind == 'r'"}], "mark": {"type": "text"}, "encoding": {"text": {"field": "label"}}}
      ]
    }
  ]
}
